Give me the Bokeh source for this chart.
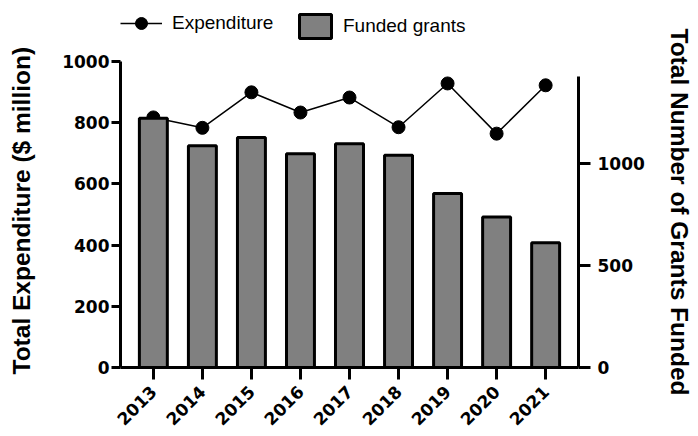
import math
from bokeh.plotting import figure
from bokeh.models import (Range1d, FactorRange, LinearAxis, FixedTicker, Legend,
                          LegendItem, Title)
from bokeh.embed import file_html
from bokeh.resources import INLINE

years = ["2013", "2014", "2015", "2016", "2017", "2018", "2019", "2020", "2021"]
expenditure = [817, 783, 899, 833, 882, 785, 928, 764, 922]
grants = [1222, 1087, 1128, 1048, 1097, 1040, 853, 738, 612]
left_ticks = [0, 200, 400, 600, 800, 1000]
right_ticks = [0, 500, 1000]
left_title = "Total Expenditure ($ million)"
right_title = "Total Number of Grants Funded"

p = figure(width=698, height=436,
           x_range=FactorRange(factors=years, range_padding=0.17, range_padding_units="absolute"),
           y_range=Range1d(0, 1199),
           output_backend="svg", toolbar_location=None,
           min_border_left=120, min_border_right=120, min_border_top=0, min_border_bottom=69)
p.title.visible = False
p.extra_y_ranges = {"right": Range1d(0, 1799)}
p.outline_line_color = None
p.xgrid.visible = False
p.ygrid.visible = False
p.background_fill_color = "white"


def style(ax):
    ax.axis_line_width = 3
    ax.axis_line_color = "black"
    ax.major_tick_line_width = 3
    ax.major_tick_line_color = "black"
    ax.major_tick_in = 0
    ax.minor_tick_line_color = None
    ax.major_label_text_font = "DejaVu Sans"
    ax.major_label_text_font_style = "bold"
    ax.major_label_text_font_size = "17px"
    ax.major_label_text_color = "black"


line_r = p.line(years, expenditure, line_color="black", line_width=1.5)
scat_r = p.scatter(years, expenditure, size=13, color="black")
bar_r = p.vbar(x=years, top=grants, width=0.57, y_range_name="right",
               fill_color="#808080", line_color="black", line_width=3)

yl = p.yaxis[0]
style(yl)
yl.ticker = FixedTicker(ticks=left_ticks)
yl.bounds = (0, 1000)
yl.major_tick_out = 9
yl.major_label_standoff = 2

yr = LinearAxis(y_range_name="right")
style(yr)
yr.ticker = FixedTicker(ticks=right_ticks)
yr.bounds = (0, 1425)
yr.major_tick_out = 12
yr.major_label_standoff = 7
p.add_layout(yr, "right")

xa = p.xaxis[0]
style(xa)
xa.major_label_orientation = math.pi / 4
xa.major_tick_out = 12
xa.major_label_standoff = 9

p.add_layout(Title(text=left_title, align="left", offset=-7, standoff=0,
                   padding=dict(top=0, right=0, bottom=25, left=0),
                   text_font="Liberation Sans", text_font_style="bold",
                   text_font_size="24.5px", text_color="black"), "left")
p.add_layout(Title(text=right_title, align="left", offset=28, standoff=0,
                   padding=dict(top=0, right=0, bottom=18, left=0),
                   text_font="Liberation Sans", text_font_style="bold",
                   text_font_size="24.5px", text_color="black"), "right")

leg1 = Legend(items=[LegendItem(label="Expenditure", renderers=[line_r, scat_r])],
              location=(0, 329), orientation="horizontal", glyph_width=42, glyph_height=30,
              label_standoff=10, padding=0, margin=0, border_line_color=None,
              background_fill_alpha=0, label_text_font="Liberation Sans",
              label_text_font_size="19px", label_text_color="black")
leg2 = Legend(items=[LegendItem(label="Funded grants", renderers=[bar_r])],
              location=(175, 326), orientation="horizontal", glyph_width=40, glyph_height=30,
              label_standoff=8, padding=0, margin=0, border_line_color=None,
              background_fill_alpha=0, label_text_font="Liberation Sans",
              label_text_font_size="19px", label_text_color="black")
p.add_layout(leg1)
p.add_layout(leg2)

open("out.html", "w").write(file_html(p, INLINE))
